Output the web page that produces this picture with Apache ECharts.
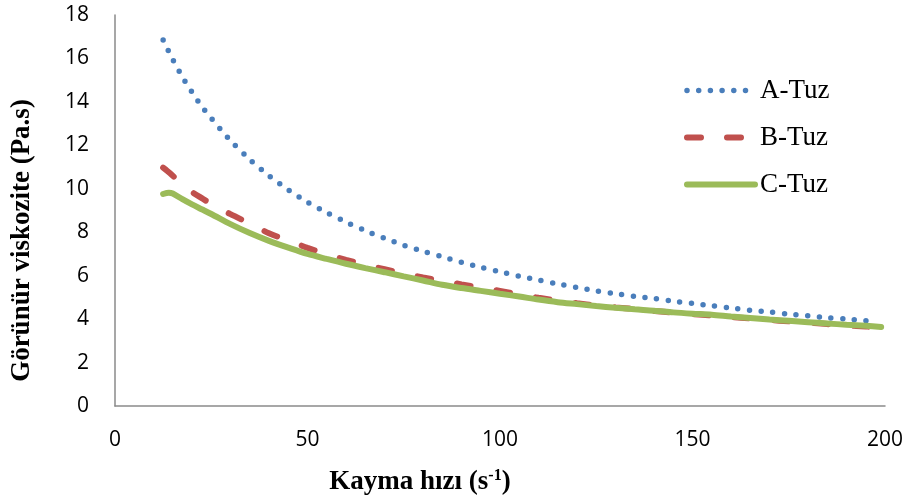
<!DOCTYPE html>
<html><head><meta charset="utf-8">
<script src="https://cdn.jsdelivr.net/npm/echarts@6/dist/echarts.min.js"></script>
<style>html,body{margin:0;padding:0;background:#fff}#c{width:910px;height:499px}</style>
</head><body><div id="c"></div>
<script>
const xA = [12.5,15,17.5,20,22.5,25,27.5,30,35,40,45,50,55,60,65,70,75,80,85,90,95,100,105,110,115,120,125,130,135,140,145,150,155,160,165,170,175,180,185,190,195,198];
const yA = [16.85,15.95,15.15,14.45,13.8,13.25,12.72,12.22,11.35,10.6,9.95,9.38,8.9,8.47,8.07,7.72,7.40,7.12,6.87,6.62,6.39,6.18,5.98,5.80,5.62,5.45,5.30,5.17,5.05,4.95,4.82,4.72,4.62,4.51,4.41,4.33,4.23,4.15,4.07,4.00,3.93,3.89];
const xB = [12.5,14.3,17.5,20,22.9,25,30,35,40,45,50,55,60,65,70,75,80,85,90,95,100,105,110,115,120,125,130,135,140,145,150,155,160,165,170,175,180,185,190,195,199];
const yB = [10.97,10.71,10.2,9.85,9.53,9.3,8.83,8.4,7.95,7.62,7.28,6.98,6.73,6.5,6.3,6.1,5.92,5.76,5.6,5.45,5.3,5.14,4.98,4.85,4.73,4.63,4.54,4.46,4.38,4.30,4.23,4.17,4.10,4.03,3.96,3.90,3.84,3.77,3.71,3.66,3.62];
const xC = [12.5,14,15,17.5,20,22.5,25,30,35,40,45,50,55,60,65,70,75,80,85,90,95,100,105,110,115,120,125,130,135,140,145,150,155,160,165,170,175,180,185,190,195,199];
const yC = [9.76,9.82,9.78,9.52,9.28,9.06,8.84,8.37,7.96,7.6,7.29,7.0,6.77,6.55,6.35,6.16,5.97,5.78,5.58,5.43,5.30,5.17,5.04,4.90,4.78,4.69,4.60,4.52,4.45,4.39,4.31,4.25,4.20,4.12,4.05,3.98,3.92,3.86,3.80,3.74,3.69,3.64];
const seriesNames = ['A-Tuz','B-Tuz','C-Tuz'];
const xTicks = {min:0,max:200,interval:50};
const yTicks = {min:0,max:18,interval:2};
const zip = (xs, ys) => xs.map((x,i)=>[x, ys[i]]);

const chart = echarts.init(document.getElementById('c'), null, {renderer:'canvas'});
const axisLabelFont = {fontFamily:'Open Sans', fontSize:21, color:'#000'};
chart.setOption({
  animation:false,
  backgroundColor:'#fff',
  grid:{left:115, right:25, top:15, bottom:93, containLabel:false, outerBoundsMode:'none'},
  legend:{
    orient:'vertical', left:684, top:77, padding:0, itemWidth:68, itemHeight:20, itemGap:20,
    itemStyle:{opacity:0},
    lineStyle:{width:6},
    textStyle:{fontFamily:'Liberation Serif', fontSize:27, color:'#000'},
    data:[{name:seriesNames[0], lineStyle:{width:5.5}}, {name:seriesNames[1]}, {name:seriesNames[2]}]
  },
  xAxis:{
    type:'value', min:xTicks.min, max:xTicks.max, interval:xTicks.interval,
    axisLine:{show:true, lineStyle:{color:'#8a8a8a', width:1.5}},
    axisTick:{show:false}, splitLine:{show:false},
    axisLabel:Object.assign({margin:24}, axisLabelFont),
    name:'{b|Kayma hızı (s}{sup|-1}{b|)}', nameLocation:'middle', nameGap:62,
    nameTextStyle:{padding:[0,160,0,0], rich:{
      b:{fontFamily:'Liberation Serif', fontWeight:'bold', fontSize:27, color:'#000'},
      sup:{fontFamily:'Liberation Serif', fontWeight:'bold', fontSize:16, color:'#000', verticalAlign:'top', padding:[0,0,12,0]}
    }}
  },
  yAxis:{
    type:'value', min:yTicks.min, max:yTicks.max, interval:yTicks.interval,
    axisLine:{show:true, lineStyle:{color:'#8a8a8a', width:1.5}},
    axisTick:{show:false}, splitLine:{show:false},
    axisLabel:Object.assign({margin:26}, axisLabelFont),
    name:'Görünür viskozite (Pa.s)', nameLocation:'middle', nameGap:79, nameRotate:90,
    nameTextStyle:{fontFamily:'Liberation Serif', fontWeight:'bold', fontSize:27, color:'#000', padding:[0,60,0,0]}
  },
  series:[
    {name:seriesNames[0], type:'line', data:zip(xA,yA), smooth:0.3, symbol:'none', color:'#4A7EBB',
      lineStyle:{color:'#4A7EBB', width:5.5, type:[0,11.7], cap:'round'}},
    {name:seriesNames[1], type:'line', data:zip(xB,yB), smooth:0.3, symbol:'none', color:'#C0504D',
      lineStyle:{color:'#C0504D', width:6, type:[14,26], cap:'round'}},
    {name:seriesNames[2], type:'line', data:zip(xC,yC), smooth:0.3, symbol:'none', color:'#9BBB59',
      lineStyle:{color:'#9BBB59', width:6, cap:'round'}}
  ]
});
</script></body></html>
